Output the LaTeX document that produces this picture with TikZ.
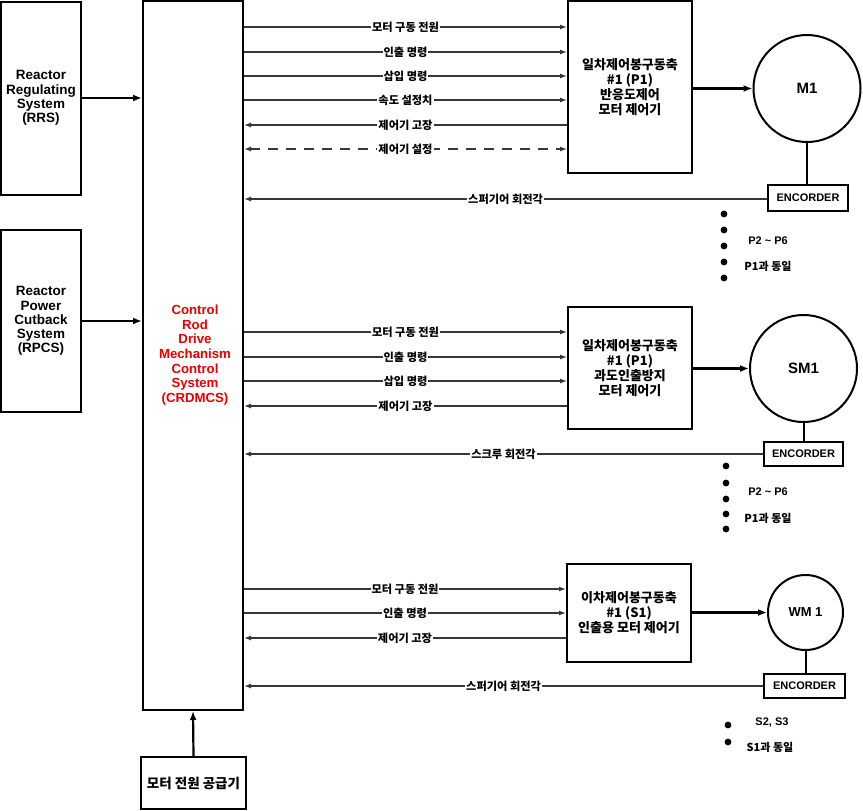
\documentclass[tikz,border=0pt]{standalone}
\usepackage{fontspec}
\setmainfont{Noto Sans CJK KR}
\newfontfamily\lat{Liberation Sans}
\usetikzlibrary{arrows.meta}
\definecolor{sigcol}{RGB}{55,55,55}
\definecolor{crdred}{RGB}{232,0,0}
\newcommand{\klbl}{\bfseries\fontsize{11.2}{13}\selectfont}
\newcommand{\kbox}{\bfseries\fontsize{13}{15}\selectfont}
\newcommand{\lbox}{\lat\bfseries\fontsize{13.5}{14.2}\selectfont}
\tikzset{
  box/.style={draw, line width=2pt, rectangle, inner sep=0pt, align=center},
  sig/.style={draw=sigcol, line width=1.3pt, -{Latex[length=7pt,width=5pt]}},
  lbl/.style={fill=white, inner sep=1pt, font=\klbl, text=black},
  drive/.style={line width=2.2pt, -{Latex[length=9pt,width=7pt]}},
  motor/.style={draw, circle, line width=2pt, inner sep=0pt, font=\lat\bfseries\fontsize{15}{17}\selectfont},
  enc/.style={draw, rectangle, line width=1.7pt, inner sep=0pt, font=\lat\bfseries\fontsize{11}{13}\selectfont},
  note/.style={inner sep=0pt, font=\bfseries\fontsize{11}{13}\selectfont},
  dotmark/.style={fill=black}
}
\begin{document}
\begin{tikzpicture}[x=1pt,y=-1pt]
\useasboundingbox[fill=white] (0,0) rectangle (863,811);
% left boxes
\node[box, minimum width=80pt, minimum height=193pt, font=\lbox] (rrs) at (41,98) {Reactor\\Regulating\\System\\(RRS)};
\node[box, minimum width=80pt, minimum height=182pt, font=\lbox] (rpcs) at (41,321) {Reactor\\Power\\Cutback\\System\\(RPCS)};
\node[box, minimum width=100pt, minimum height=709pt] (crd) at (193,355.5) {};
\node[align=center, text=crdred, font=\lat\bfseries\fontsize{13.2}{14.7}\selectfont] (crdt) at (195,355) {Control\\Rod\\Drive\\Mechanism\\Control\\System\\(CRDMCS)};
\node[box, minimum width=105pt, minimum height=52pt, font=\bfseries\fontsize{13.5}{15}\selectfont] (psu) at (193.5,783) {모터 전원 공급기};
\draw[drive] (rrs.east) -- (crd.west |- rrs.east);
\draw[drive] (rpcs.east) -- (crd.west |- rpcs.east);
\draw[drive] (psu.north) -- (crd.south);
% controllers
\node[box, minimum width=124pt, minimum height=172pt, font=\kbox] (c1) at (630,87) {일차제어봉구동축\\\#1 (P1)\\반응도제어\\모터 제어기};
\node[box, minimum width=124pt, minimum height=122pt, font=\kbox] (c2) at (630,368) {일차제어봉구동축\\\#1 (P1)\\과도인출방지\\모터 제어기};
\node[box, minimum width=124pt, minimum height=98pt, font=\kbox] (c3) at (629,613) {이차제어봉구동축\\\#1 (S1)\\인출용 모터 제어기};
% motors
\node[motor, minimum size=107pt] (m1) at (807,88.5) {M1};
\node[motor, minimum size=107pt] (sm1) at (803.5,368.5) {SM1};
\node[motor, minimum size=75pt, font=\lat\bfseries\fontsize{13}{15}\selectfont] (wm1) at (805.5,612.5) {WM 1};
% encoders
\node[enc, minimum width=80pt, minimum height=26pt] (e1) at (808,198) {ENCORDER};
\node[enc, minimum width=79pt, minimum height=24pt] (e2) at (803.5,454) {ENCORDER};
\node[enc, minimum width=81pt, minimum height=24pt] (e3) at (804.5,686) {ENCORDER};
\draw[line width=2pt] (m1.south) -- (m1.south |- e1.north);
\draw[line width=2pt] (sm1.south) -- (sm1.south |- e2.north);
\draw[line width=2pt] (wm1.south) -- (wm1.south |- e3.north);
\draw[drive] (c1.east |- m1) -- (m1.west);
\draw[drive] (c2.east |- sm1) -- (sm1.west);
\draw[drive] (c3.east |- wm1) -- (wm1.west);
% section 1 signals
\draw[sig] (crd.east |- 0,27) -- node[lbl] {모터 구동 전원} (c1.west |- 0,27);
\draw[sig] (crd.east |- 0,52) -- node[lbl] {인출 명령} (c1.west |- 0,52);
\draw[sig] (crd.east |- 0,76) -- node[lbl] {삽입 명령} (c1.west |- 0,76);
\draw[sig] (crd.east |- 0,100) -- node[lbl] {속도 설정치} (c1.west |- 0,100);
\draw[sig] (c1.west |- 0,125) -- node[lbl] {제어기 고장} (crd.east |- 0,125);
\draw[sig, {Latex[length=7pt,width=5pt]}-{Latex[length=7pt,width=5pt]}, dash pattern=on 10pt off 8pt] (crd.east |- 0,149) -- node[lbl] {제어기 설정} (c1.west |- 0,149);
\draw[sig] (e1.west |- 0,199) -- node[lbl] {스퍼기어 회전각} (crd.east |- 0,199);
% section 2 signals
\draw[sig] (crd.east |- 0,332) -- node[lbl] {모터 구동 전원} (c2.west |- 0,332);
\draw[sig] (crd.east |- 0,357) -- node[lbl] {인출 명령} (c2.west |- 0,357);
\draw[sig] (crd.east |- 0,381) -- node[lbl] {삽입 명령} (c2.west |- 0,381);
\draw[sig] (c2.west |- 0,406) -- node[lbl] {제어기 고장} (crd.east |- 0,406);
\draw[sig] (e2.west |- 0,454) -- node[lbl] {스크루 회전각} (crd.east |- 0,454);
% section 3 signals
\draw[sig] (crd.east |- 0,589) -- node[lbl] {모터 구동 전원} (c3.west |- 0,589);
\draw[sig] (crd.east |- 0,613) -- node[lbl] {인출 명령} (c3.west |- 0,613);
\draw[sig] (c3.west |- 0,638) -- node[lbl] {제어기 고장} (crd.east |- 0,638);
\draw[sig] (e3.west |- 0,686) -- node[lbl] {스퍼기어 회전각} (crd.east |- 0,686);
% dots and notes
\foreach \yy in {214,230,246,262,278} \fill[dotmark] (724,\yy) circle (3.4pt);
\node[note, font=\lat\bfseries\fontsize{11}{13}\selectfont] (n1a) at (768,241) {P2 \textasciitilde{} P6};
\node[note] (n1b) at (768,266) {P1과 동일};
\foreach \yy in {466,483,499,514,529} \fill[dotmark] (726,\yy) circle (3.4pt);
\node[note, font=\lat\bfseries\fontsize{11}{13}\selectfont] (n2a) at (768,492) {P2 \textasciitilde{} P6};
\node[note] (n2b) at (768,518) {P1과 동일};
\foreach \yy in {725,742} \fill[dotmark] (728,\yy) circle (3.4pt);
\node[note, font=\lat\bfseries\fontsize{11}{13}\selectfont] (n3a) at (772,723) {S2, S3};
\node[note] (n3b) at (770,747) {S1과 동일};
\end{tikzpicture}
\end{document}
